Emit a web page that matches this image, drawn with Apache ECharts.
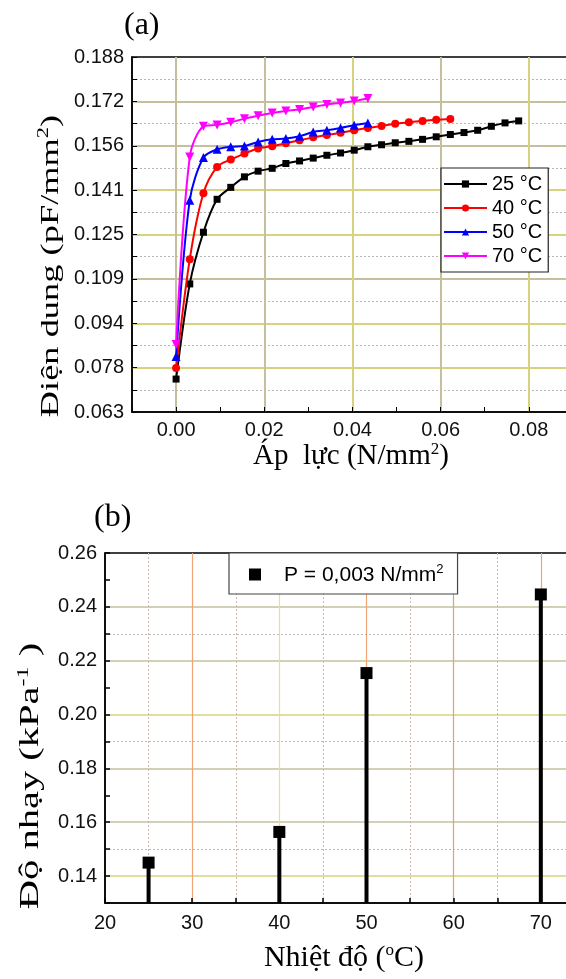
<!DOCTYPE html>
<html><head><meta charset="utf-8">
<script src="https://cdn.jsdelivr.net/npm/echarts@6/dist/echarts.min.js"></script>
<style>html,body{margin:0;padding:0;background:#fff}#c{width:566px;height:979px}</style>
</head><body><div id="c"></div>
<script>
// ---------- Panel (a) data ----------
var pressure = [0, 0.0031, 0.0062, 0.0093, 0.0124, 0.0155, 0.0186, 0.0218, 0.0249, 0.028, 0.0311, 0.0342, 0.0373, 0.0404, 0.0435, 0.0466, 0.0497, 0.0528, 0.0559, 0.059, 0.0622, 0.0653, 0.0684, 0.0715, 0.0746, 0.0777];
var cap25 = [0.0741, 0.1076, 0.1258, 0.1374, 0.1416, 0.1453, 0.1473, 0.1483, 0.1500, 0.1509, 0.1519, 0.1529, 0.1537, 0.1547, 0.1559, 0.1566, 0.1573, 0.1578, 0.1585, 0.1594, 0.1602, 0.1609, 0.1617, 0.1631, 0.1643, 0.1650];
var cap40 = [0.0780, 0.1163, 0.1395, 0.1488, 0.1514, 0.1535, 0.1553, 0.1561, 0.1571, 0.1582, 0.1592, 0.1600, 0.1608, 0.1617, 0.1625, 0.1632, 0.1640, 0.1645, 0.1650, 0.1654, 0.1657];
var cap50 = [0.0820, 0.1371, 0.1521, 0.1550, 0.1559, 0.1562, 0.1576, 0.1585, 0.1588, 0.1596, 0.1611, 0.1617, 0.1625, 0.1635, 0.1643];
var cap70 = [0.0863, 0.1523, 0.1631, 0.1636, 0.1645, 0.1658, 0.1668, 0.1678, 0.1685, 0.1690, 0.1699, 0.1708, 0.1713, 0.1720, 0.1729];
var seriesNamesA = ['25 °C', '40 °C', '50 °C', '70 °C'];
// ---------- Panel (b) data ----------
var temps = [25, 40, 50, 70];
var sensitivity = [0.1450, 0.1564, 0.2154, 0.2446];
var legendB = 'P = 0,003 N/mm';

function pairs(xs, ys){ var out=[]; for (var i=0;i<ys.length;i++) out.push([xs[i], ys[i]]); return out; }

var SANS = 'Liberation Sans, Arial, sans-serif';
var SERIF = 'Liberation Serif, Times New Roman, serif';
var KG = '#c4c09e', KY = '#d6d27e', T = 'rgba(0,0,0,0)';
var OR = '#f0a474', YE = '#f2dc88';

var colorsA = ['#000000', '#ff0000', '#0000ff', '#ff00ff'];
var symbolsA = ['rect', 'circle', 'triangle', 'path://M0,0 L10,0 L5,9 Z'];
var capsA = [cap25, cap40, cap50, cap70];

var series = [];
for (var k=0;k<4;k++){
  series.push({
    name: seriesNamesA[k], type:'line', xAxisIndex:0, yAxisIndex:0,
    data: pairs(pressure, capsA[k]), smooth:0.3,
    symbol: symbolsA[k], symbolSize: k===1?8:(k===0?7:9),
    lineStyle:{color:colorsA[k], width:2}, itemStyle:{color:colorsA[k], opacity:1},
    z: 5+k
  });
}
series.push({
  name:'stems', type:'bar', xAxisIndex:1, yAxisIndex:1, barWidth:4,
  data: pairs(temps, sensitivity), itemStyle:{color:'#000', opacity:1}, z:4
});
series.push({
  name: legendB, type:'scatter', xAxisIndex:1, yAxisIndex:1, symbol:'rect', symbolSize:12,
  data: pairs(temps, sensitivity), itemStyle:{color:'#000', opacity:1}, z:6
});

var chart = echarts.init(document.getElementById('c'), null, {renderer:'canvas'});
chart.setOption({
  animation:false,
  backgroundColor:'#fff',
  grid:[
    {left:132, top:57, width:485, height:355, outerBoundsMode:'none', containLabel:false, show:true, borderColor:'#000', borderWidth:1.5, backgroundColor:'#fff'},
    {left:105, top:553, width:523, height:350, outerBoundsMode:'none', containLabel:false, show:true, borderColor:'#000', borderWidth:1.5, backgroundColor:'#fff'}
  ],
  xAxis:[
    {type:'value', gridIndex:0, min:-0.01, max:0.1, interval:0.01,
     axisLine:{show:true, onZero:false, lineStyle:{color:'#000', width:1.5}},
     axisTick:{show:true, inside:true, length:5, lineStyle:{color:'#000'}},
     axisLabel:{margin:8, fontFamily:SANS, fontSize:20, color:'#111',
       formatter:function(v){ var n=Math.round(v*100); return (n>=0 && n%2===0 && n<=8) ? v.toFixed(2) : ''; }},
     splitLine:{show:true, showMinLine:true, showMaxLine:true, lineStyle:{width:2, color:[T, KG, T, KG, T, KY, T, KG, T, KY, T, KG]}}
    },
    {type:'value', gridIndex:1, min:20, max:80, interval:10,
     axisLine:{show:true, onZero:false, lineStyle:{color:'#000', width:1.5}},
     axisTick:{show:true, inside:true, length:5, lineStyle:{color:'#000', width:1.5}},
     minorTick:{show:true, splitNumber:2, length:5, lineStyle:{color:'#000', width:1.5}},
     axisLabel:{margin:10, fontFamily:SANS, fontSize:20, color:'#111',
       formatter:function(v){ return v<=70 ? String(v) : ''; }},
     splitLine:{show:true, showMinLine:true, showMaxLine:true, lineStyle:{width:1.2, color:[T, OR, YE, OR, '#e8a066', OR, T]}},
     minorSplitLine:{show:true, lineStyle:{color:'#cdb8b0', width:1, type:[2,2]}}
    }
  ],
  yAxis:[
    {type:'value', gridIndex:0, min:0.0625, max:0.1875, interval:0.015625,
     axisLine:{show:true, onZero:false, lineStyle:{color:'#000', width:1.5}},
     axisTick:{show:true, inside:true, length:5, lineStyle:{color:'#000'}},
     minorTick:{show:true, splitNumber:2, length:5, lineStyle:{color:'#000'}},
     axisLabel:{margin:8, fontFamily:SANS, fontSize:20, color:'#111',
       formatter:function(v){ return v.toFixed(3); }},
     splitLine:{show:true, showMinLine:true, showMaxLine:true, lineStyle:{width:2, color:[T, KY, KY, KG, KY, KY, KG, KG, T]}},
     minorSplitLine:{show:true, lineStyle:{color:'#b4b4b4', width:1, type:[2,2]}}
    },
    {type:'value', gridIndex:1, min:0.13, max:0.26, interval:0.01,
     axisLine:{show:true, onZero:false, lineStyle:{color:'#000', width:1.5}},
     axisTick:{show:true, inside:true, length:5, lineStyle:{color:'#000', width:1.5}},
     axisLabel:{margin:8, fontFamily:SANS, fontSize:20, color:'#111',
       formatter:function(v){ var n=Math.round(v*100); return n%2===0 ? v.toFixed(2) : ''; }},
     splitLine:{show:true, showMinLine:true, showMaxLine:true, lineStyle:{width:1.5, color:[T, KY, T, KG, T, KG, T, KY, T, KG, T, KG, T, T]}}
    },
    {type:'value', gridIndex:1, min:0.13, max:0.26, interval:0.01, position:'left', offset:0,
     axisLine:{show:false}, axisTick:{show:false}, axisLabel:{show:false},
     splitLine:{show:true, showMinLine:true, showMaxLine:true, lineStyle:{width:1, type:[2,2], color:[T, T, '#b8b8b8', T]}}
    }
  ],
  legend:[
    {data: seriesNamesA, orient:'vertical', left:441, top:168, itemWidth:43, itemHeight:9, itemGap:4,
     padding:[6,6,6,2], backgroundColor:'#fff', borderColor:'#222', borderWidth:1.2,
     textStyle:{fontFamily:SANS, fontSize:20, color:'#000', lineHeight:18}, selectedMode:false},
    {data:[legendB], orient:'horizontal', left:229, top:553, itemWidth:12, itemHeight:12,
     padding:[10,14,8,20], backgroundColor:'#fff', borderColor:'#444', borderWidth:1.2, selectedMode:false,
     formatter: function(n){ return '{a|' + n + '}{s|2}'; },
     textStyle:{fontFamily:SANS, fontSize:21, color:'#000',
       rich:{a:{fontFamily:SANS, fontSize:21, padding:[0,0,0,18], verticalAlign:'bottom'},
             s:{fontFamily:SANS, fontSize:13, padding:[0,0,10,0], verticalAlign:'bottom'}}}}
  ],
  graphic:[
    {type:'text', left:124, top:10, style:{text:'(a)', font:'32px ' + SERIF, fill:'#000'}},
    {type:'text', left:94, top:502, style:{text:'(b)', font:'32px ' + SERIF, fill:'#000'}},
    {type:'text', x:351, y:456, style:{align:'center', verticalAlign:'middle', fill:'#000',
      text:'{t|Áp  lực (N/mm}{s|2}{t|)}',
      rich:{t:{fontFamily:SERIF, fontSize:29, verticalAlign:'bottom'}, s:{fontFamily:SERIF, fontSize:17, verticalAlign:'bottom', padding:[0,0,13,0]}}}},
    {type:'text', x:344, y:958, style:{align:'center', verticalAlign:'middle', fill:'#000',
      text:'{t|Nhiệt độ (}{s|o}{t|C)}',
      rich:{t:{fontFamily:SERIF, fontSize:30, verticalAlign:'bottom'}, s:{fontFamily:SERIF, fontSize:17, verticalAlign:'bottom', padding:[0,0,14,0]}}}},
    {type:'text', x:50, y:266, rotation:Math.PI/2, scaleX:1.4, style:{align:'center', verticalAlign:'middle', fill:'#000',
      text:'{t|Điện dung (pF/mm}{s|2}{t|)}',
      rich:{t:{fontFamily:SERIF, fontSize:26, verticalAlign:'bottom'}, s:{fontFamily:SERIF, fontSize:16, verticalAlign:'bottom', padding:[0,0,12,0]}}}},
    {type:'text', x:30, y:776, rotation:Math.PI/2, scaleX:1.5, style:{align:'center', verticalAlign:'middle', fill:'#000',
      text:'{t|Độ nhạy (kPa}{s|-1}{t| )}',
      rich:{t:{fontFamily:SERIF, fontSize:27, verticalAlign:'bottom'}, s:{fontFamily:SERIF, fontSize:16, verticalAlign:'bottom', padding:[0,0,12,0]}}}}
  ],
  series: series
});
</script></body></html>
